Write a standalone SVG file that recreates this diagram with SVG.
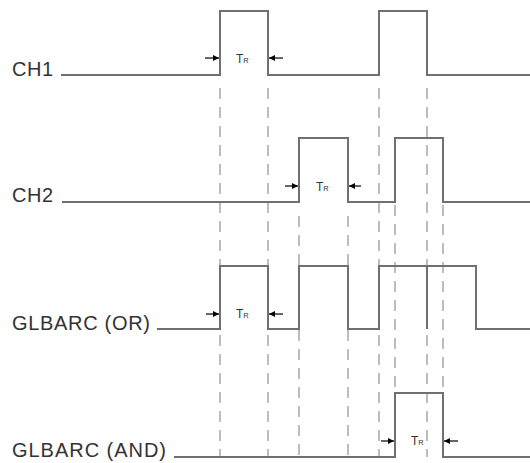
<svg xmlns="http://www.w3.org/2000/svg" width="530" height="463" viewBox="0 0 530 463">
<style>
.sig{fill:none;stroke:#707070;stroke-width:2}
.lbl{font-family:"Liberation Sans",Arial,sans-serif;font-size:20px;fill:#333}
.tr{font-family:"Liberation Sans",Arial,sans-serif;font-size:12px;fill:#333}
.trs{font-size:7.5px}
.dash{stroke:#a8a8a8;stroke-width:1.5;stroke-dasharray:11 8;fill:none}
.arr{stroke:#000;stroke-width:1.2;fill:none;marker-end:url(#ah)}
</style>
<defs>
<marker id="ah" viewBox="0 0 6 6" refX="6" refY="3" markerWidth="6" markerHeight="6" markerUnits="userSpaceOnUse" orient="auto">
<path d="M0,0 L6,3 L0,6 Z" fill="#000"/>
</marker>
</defs>
<rect width="530" height="463" fill="#fff"/>
<g id="connectors">
<line class="dash" x1="220" y1="88" x2="220" y2="457"/>
<line class="dash" x1="268" y1="88" x2="268" y2="457"/>
<line class="dash" x1="379" y1="88" x2="379" y2="457"/>
<line class="dash" x1="427" y1="88" x2="427" y2="457"/>
<line class="dash" x1="299" y1="216" x2="299" y2="457"/>
<line class="dash" x1="348" y1="216" x2="348" y2="457"/>
<line class="dash" x1="395" y1="205" x2="395" y2="457"/>
<line class="dash" x1="443" y1="205" x2="443" y2="457"/>
<line class="arr" x1="205" y1="58" x2="219" y2="58"/>
<line class="arr" x1="283" y1="58" x2="269" y2="58"/>
<line class="arr" x1="285" y1="186" x2="298" y2="186"/>
<line class="arr" x1="361" y1="186" x2="349" y2="186"/>
<line class="arr" x1="206" y1="314" x2="219" y2="314"/>
<line class="arr" x1="283" y1="314" x2="269" y2="314"/>
<line class="arr" x1="381" y1="441" x2="394" y2="441"/>
<line class="arr" x1="458" y1="441" x2="444" y2="441"/>
</g>
<g id="ch1">
<text class="lbl" x="12" y="76" textLength="41" lengthAdjust="spacing">CH1</text>
<polyline class="sig" points="61,75 220,75 220,11 268,11 268,75 379,75 379,11 427,11 427,75 530,75"/>
<text class="tr" x="236" y="63">T<tspan class="trs">R</tspan></text>
</g>
<g id="ch2">
<text class="lbl" x="12" y="202" textLength="41" lengthAdjust="spacing">CH2</text>
<polyline class="sig" points="62,202 299,202 299,138 348,138 348,202 395,202 395,138 443,138 443,202 530,202"/>
<text class="tr" x="316" y="191">T<tspan class="trs">R</tspan></text>
</g>
<g id="glbarc-or">
<text class="lbl" x="12" y="330" textLength="138" lengthAdjust="spacing">GLBARC (OR)</text>
<polyline class="sig" points="157,329 220,329 220,266 268,266 268,329 299,329 299,266 348,266 348,329 379,329 379,266 476,266 476,329 530,329"/>
<line class="sig" x1="427" y1="266" x2="427" y2="329"/>
<text class="tr" x="236" y="318">T<tspan class="trs">R</tspan></text>
</g>
<g id="glbarc-and">
<text class="lbl" x="12" y="457" textLength="154" lengthAdjust="spacing">GLBARC (AND)</text>
<polyline class="sig" points="174,457 395,457 395,393 443,393 443,457 530,457"/>
<text class="tr" x="411" y="445">T<tspan class="trs">R</tspan></text>
</g>
</svg>
